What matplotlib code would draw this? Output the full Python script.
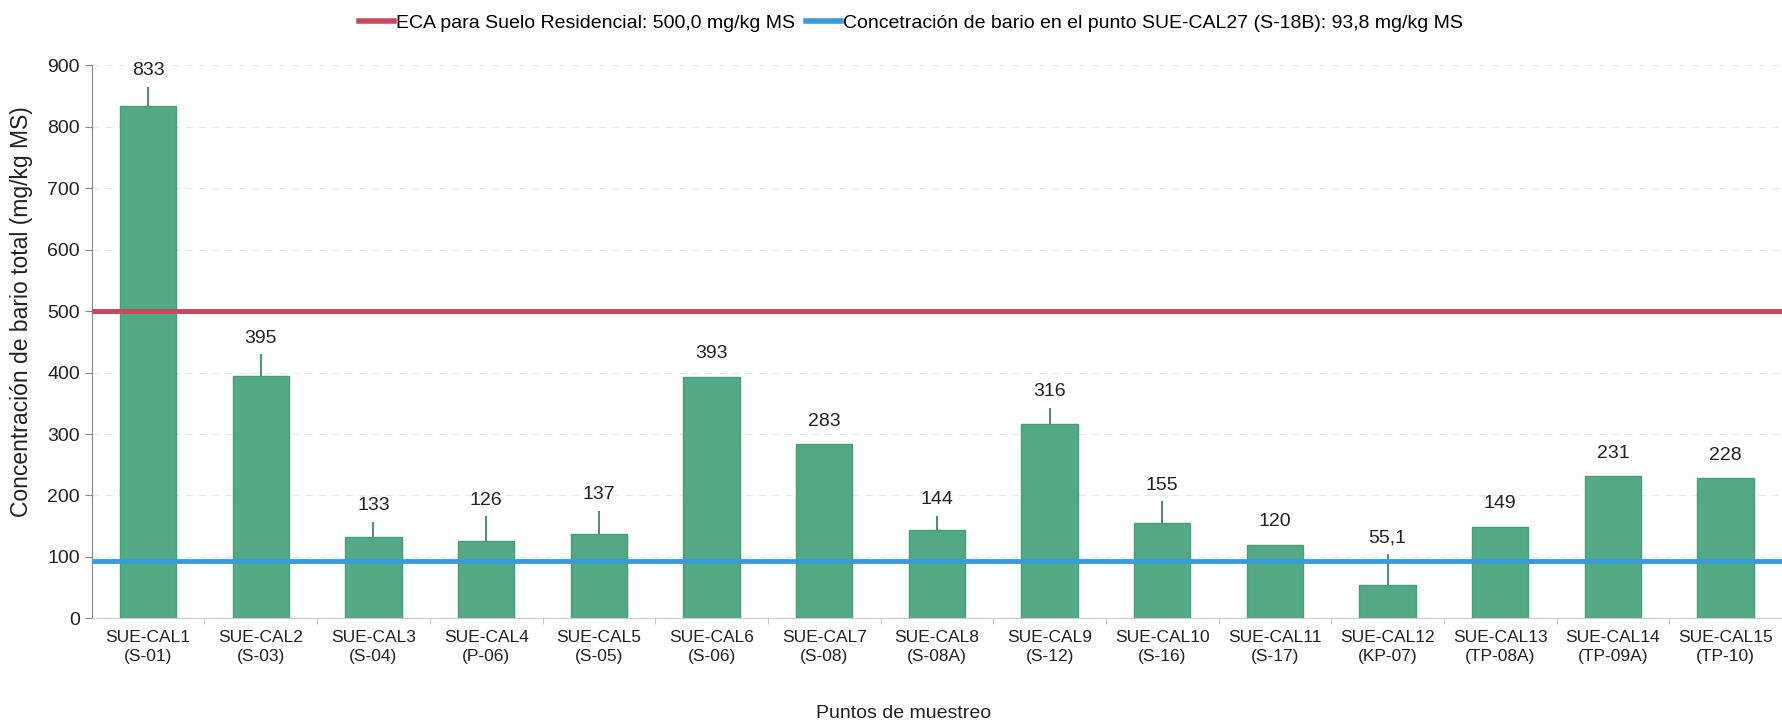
import numpy as np
import matplotlib
matplotlib.use('Agg')
import matplotlib.pyplot as plt
from matplotlib.lines import Line2D

# data
points = ['SUE-CAL1', 'SUE-CAL2', 'SUE-CAL3', 'SUE-CAL4', 'SUE-CAL5', 'SUE-CAL6', 'SUE-CAL7',
          'SUE-CAL8', 'SUE-CAL9', 'SUE-CAL10', 'SUE-CAL11', 'SUE-CAL12', 'SUE-CAL13',
          'SUE-CAL14', 'SUE-CAL15']
codes = ['S-01', 'S-03', 'S-04', 'P-06', 'S-05', 'S-06', 'S-08', 'S-08A', 'S-12', 'S-16',
         'S-17', 'KP-07', 'TP-08A', 'TP-09A', 'TP-10']
barium = [833, 395, 133, 126, 137, 393, 283, 144, 316, 155, 120, 55.1, 149, 231, 228]
value_labels = ['833', '395', '133', '126', '137', '393', '283', '144', '316', '155', '120',
                '55,1', '149', '231', '228']
# upper error (only some points have one)
err_up = [32, 35, 24, 40, 38, 0, 0, 23, 27, 36, 0, 50, 0, 0, 0]

eca_limit = 500.0
background = 93.8

plt.rcParams['font.family'] = ['Liberation Sans Narrow', 'Liberation Sans', 'DejaVu Sans']

fig = plt.figure(figsize=(17.82, 7.25), dpi=100)
ax = fig.add_axes([0.0515, 0.147, 0.9485, 0.763])

x = np.arange(len(points))
ax.bar(x, barium, width=0.5, color='#52aa84', edgecolor='#4a9c78', linewidth=1, zorder=2)
ax.errorbar(x, barium, yerr=[np.zeros(len(x)), err_up], fmt='none', ecolor='#2f7a5c',
            elinewidth=1.2, capsize=0, zorder=3)

ax.axhline(eca_limit, color='#c7475f', linewidth=3.5, zorder=4)
ax.axhline(background, color='#3a9bdc', linewidth=3.5, zorder=4)

for xi, v, e, lab in zip(x, barium, err_up, value_labels):
    top = v + e
    off = 11.5 if e > 0 else 16.5
    ax.annotate(lab, (xi, top), xytext=(0, off), textcoords='offset points',
                ha='center', va='center', fontsize=14, color='#222222')

ax.set_xlim(-0.5, 14.5)
ax.set_ylim(0, 900)
ax.set_yticks(range(0, 901, 100))
ax.set_xticks(x)
ax.set_xticklabels([f'{p}\n({c})' for p, c in zip(points, codes)], fontsize=12.5,
                   linespacing=1.35, color='#222222')
ax.tick_params(axis='x', length=0, pad=8)
ax.set_xticks(np.arange(0.5, 14.5, 1), minor=True)
ax.tick_params(axis='x', which='minor', length=4, color='#bbbbbb')
ax.tick_params(axis='y', labelsize=14, length=5, color='#888888', labelcolor='#222222')

ax.yaxis.grid(True, linestyle=(0, (6, 6)), color='#e6e6e6', linewidth=0.8, zorder=0)
ax.set_axisbelow(True)
for s in ['top', 'right']:
    ax.spines[s].set_visible(False)
ax.spines['left'].set_color('#888888')
ax.spines['bottom'].set_color('#cccccc')

fig.text(22 / 1782, 1 - 312 / 725, 'Concentración de bario total (mg/kg MS)', rotation=90,
         ha='center', va='center', fontsize=16.5, color='#222222')
fig.text(904 / 1782, 1 - 714 / 725, 'Puntos de muestreo', ha='center', va='center',
         fontsize=14, color='#222222')

handles = [Line2D([], [], color='#c7475f', linewidth=4),
           Line2D([], [], color='#3a9bdc', linewidth=4)]
labels = ['ECA para Suelo Residencial: 500,0 mg/kg MS',
          'Concetración de bario en el punto SUE-CAL27 (S-18B): 93,8 mg/kg MS']
fig.legend(handles, labels, loc='center', bbox_to_anchor=(911 / 1782, 1 - 23 / 725),
           ncol=2, frameon=False, fontsize=14, handlelength=1.8, handletextpad=0.1,
           columnspacing=0.6)

fig.savefig('out.png', dpi=100)
